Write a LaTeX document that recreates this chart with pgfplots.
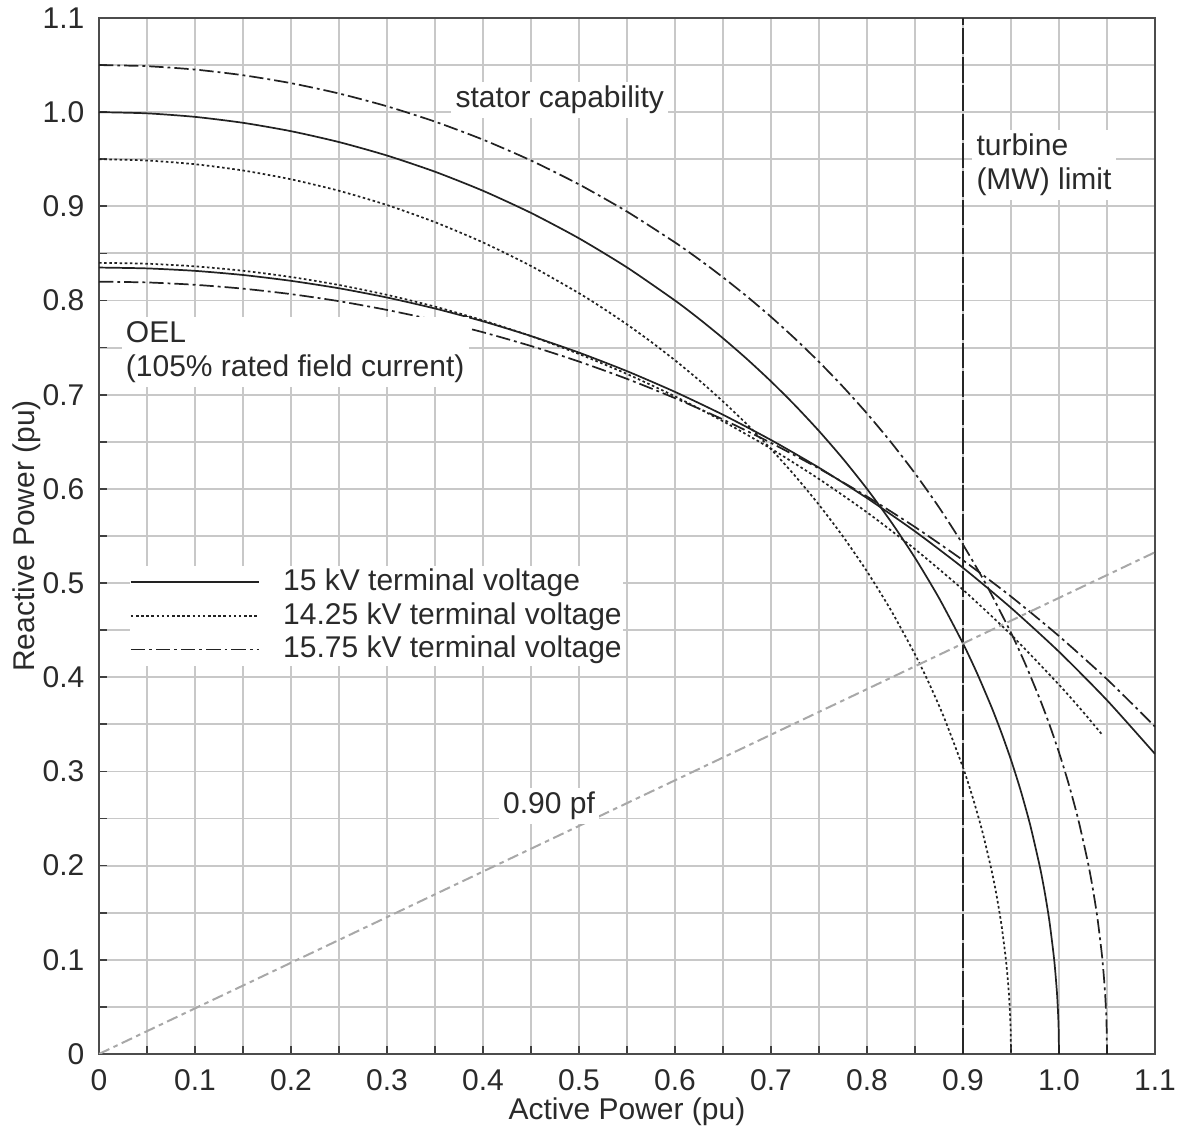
\documentclass[border=0pt]{standalone}
\usepackage{fontspec}
\setmainfont{Liberation Sans}
\usepackage{pgfplots}
\pgfplotsset{compat=1.18}
\definecolor{txt}{HTML}{2A2A2A}
\definecolor{gridc}{HTML}{C8C8C8}
\definecolor{curve}{HTML}{222222}
\definecolor{pfc}{HTML}{A8A8A8}
\begin{document}
\begin{tikzpicture}
\begin{axis}[
  scale only axis,
  width=369.6pt, height=362.6pt,
  xmin=0, xmax=1.1, ymin=0, ymax=1.1,
  xtick={0,0.1,0.2,0.3,0.4,0.5,0.6,0.7,0.8,0.9,1.0,1.1},
  ytick={0,0.1,0.2,0.3,0.4,0.5,0.6,0.7,0.8,0.9,1.0,1.1},
  xticklabels={0,0.1,0.2,0.3,0.4,0.5,0.6,0.7,0.8,0.9,1.0,1.1},
  yticklabels={0,0.1,0.2,0.3,0.4,0.5,0.6,0.7,0.8,0.9,1.0,1.1},
  minor tick num=1,
  grid=both,
  major grid style={gridc, line width=0.65pt},
  minor grid style={gridc, line width=0.65pt},
  tick align=inside,
  xtick pos=bottom, ytick pos=left,
  major tick length=2.8pt, minor tick length=2.8pt,
  tick style={black!75, line width=0.6pt},
  axis line style={black!70, line width=0.75pt},
  /pgf/number format/assume math mode=true,
  tick label style={font=\fontsize{10.5}{12}\selectfont, text=txt, inner sep=1pt},
  xticklabel style={yshift=-4.4pt},
  yticklabel style={xshift=-3.9pt},
  xlabel={Active Power (pu)},
  ylabel={Reactive Power (pu)},
  label style={font=\fontsize{10.5}{12}\selectfont, text=txt},
  xlabel style={at={(axis description cs:0.5,-0.0555)}, anchor=center},
  ylabel style={at={(axis description cs:-0.0680,0.5)}, anchor=center},
  legend style={at={(0.0294,0.4711)}, anchor=north west, draw=none, fill=white,
    inner sep=0pt, outer sep=0pt, row sep=0.65pt,
    font=\fontsize{10.5}{12}\selectfont, text=txt,
    nodes={inner sep=0.5pt, text height=8pt, text depth=2.2pt}},
  legend cell align=left,
  legend image code/.code={\draw[#1] (0pt,0pt) -- (44.8pt,0pt); \path (52.5pt,0pt);},
  every axis plot/.append style={smooth, tension=0.4},
]
% ---- OEL curves (field current limit) ----
\addplot[curve, line width=0.6pt] coordinates {
 (0,0.835) (0.05,0.8341) (0.1,0.8315) (0.15,0.8271) (0.2,0.8209) (0.25,0.8130)
 (0.3,0.8032) (0.35,0.7915) (0.4,0.7779) (0.45,0.7623) (0.5,0.7447) (0.55,0.7250)
 (0.6,0.7030) (0.65,0.6787) (0.7,0.6519) (0.75,0.6225) (0.8,0.5902) (0.85,0.5549)
 (0.9,0.5162) (0.95,0.4737) (1.0,0.4271) (1.05,0.3756) (1.1,0.3186)};
\addlegendentry{15 kV terminal voltage}
\addplot[curve, line width=0.6pt, dash pattern=on 0.9pt off 0.9pt] coordinates {
 (0,0.84) (0.05,0.8391) (0.1,0.8363) (0.15,0.8316) (0.2,0.8250) (0.25,0.8165)
 (0.3,0.8060) (0.35,0.7935) (0.4,0.7789) (0.45,0.7622) (0.5,0.7432) (0.55,0.7220)
 (0.6,0.6982) (0.65,0.6718) (0.7,0.6427) (0.75,0.6105) (0.8,0.5751) (0.85,0.5360)
 (0.9,0.4929) (0.95,0.4452) (1.0,0.3921) (1.025,0.3633) (1.045,0.3390)};
\addlegendentry{14.25 kV terminal voltage}
\addplot[curve, line width=0.6pt, dash pattern=on 5pt off 1.4pt on 1pt off 1.4pt] coordinates {
 (0,0.82) (0.05,0.8192) (0.1,0.8167) (0.15,0.8126) (0.2,0.8068) (0.25,0.7993)
 (0.3,0.7900) (0.35,0.7791) (0.4,0.7663) (0.45,0.7517) (0.5,0.7352) (0.55,0.7168)
 (0.6,0.6963) (0.65,0.6737) (0.7,0.6488) (0.75,0.6216) (0.8,0.5919) (0.85,0.5595)
 (0.9,0.5242) (0.95,0.4857) (1.0,0.4437) (1.05,0.3979) (1.1,0.3476)};
\addlegendentry{15.75 kV terminal voltage}
% ---- stator capability circles ----
\addplot[curve, line width=0.6pt, forget plot] coordinates {
 (0,1.0) (0.05,0.99875) (0.1,0.99499) (0.15,0.98869) (0.2,0.97980) (0.25,0.96825)
 (0.3,0.95394) (0.35,0.93675) (0.4,0.91652) (0.45,0.89303) (0.5,0.86603) (0.55,0.83516)
 (0.6,0.8) (0.625,0.78063) (0.65,0.75993) (0.675,0.73782) (0.7,0.71414) (0.725,0.68875)
 (0.75,0.66144) (0.775,0.63197) (0.8,0.6) (0.825,0.56513) (0.85,0.52678) (0.875,0.48412)
 (0.9,0.43589) (0.915,0.40345) (0.93,0.36756) (0.94,0.34117) (0.95,0.31225) (0.96,0.28)
 (0.97,0.24310) (0.98,0.19900) (0.985,0.17255) (0.99,0.14107) (0.995,0.09987)
 (0.998,0.06322) (0.9995,0.03162) (1.0,0)};
\addplot[curve, line width=0.6pt, dash pattern=on 0.9pt off 0.9pt, forget plot] coordinates {
 (0,0.95) (0.05,0.94868) (0.1,0.94472) (0.15,0.93808) (0.2,0.92871) (0.25,0.91652)
 (0.3,0.90139) (0.35,0.88318) (0.4,0.86168) (0.45,0.83666) (0.5,0.80777) (0.525,0.79175)
 (0.55,0.77460) (0.575,0.75622) (0.6,0.73655) (0.625,0.71546) (0.65,0.69282) (0.675,0.66849)
 (0.7,0.64226) (0.725,0.61390) (0.75,0.58310) (0.775,0.54943) (0.8,0.51235) (0.825,0.47104)
 (0.85,0.42426) (0.865,0.39278) (0.88,0.35791) (0.9,0.30414) (0.91,0.27276) (0.92,0.23685)
 (0.93,0.19391) (0.935,0.16815) (0.94,0.13748) (0.945,0.09734) (0.948,0.06161)
 (0.9495,0.03082) (0.95,0)};
\addplot[curve, line width=0.6pt, dash pattern=on 5pt off 1.4pt on 1pt off 1.4pt, forget plot] coordinates {
 (0,1.05) (0.05,1.04881) (0.1,1.04523) (0.15,1.03923) (0.2,1.03078) (0.25,1.01980)
 (0.3,1.00623) (0.35,0.98995) (0.4,0.97082) (0.45,0.94868) (0.5,0.92331) (0.55,0.89443)
 (0.6,0.86168) (0.625,0.84373) (0.65,0.82462) (0.675,0.80429) (0.7,0.78262) (0.725,0.75952)
 (0.75,0.73485) (0.775,0.70843) (0.8,0.68007) (0.825,0.64952) (0.85,0.61644) (0.875,0.58041)
 (0.9,0.54083) (0.925,0.49687) (0.95,0.44721) (0.965,0.41385) (0.98,0.37696) (0.99,0.34986)
 (1.0,0.32016) (1.01,0.28705) (1.02,0.24920) (1.03,0.20396) (1.035,0.17685) (1.04,0.14457)
 (1.045,0.10235) (1.048,0.06478) (1.0495,0.03240) (1.05,0)};
% ---- turbine limit ----
\addplot[black!85, line width=0.7pt, sharp plot, dash pattern=on 9pt off 1pt, forget plot] coordinates {(0.9,0) (0.9,1.1)};
% ---- 0.90 pf line ----
\addplot[pfc, line width=0.7pt, sharp plot, dash pattern=on 4pt off 1.6pt on 1.6pt off 1.6pt, forget plot] coordinates {(0,0) (1.1,0.5327)};
% ---- annotations ----
\node[fill=white, inner sep=1.5pt, text=txt, font=\fontsize{10.5}{12}\selectfont] at (axis cs:0.48,1.013) {stator capability};
\node[fill=white, inner sep=1.5pt, text=txt, align=left, anchor=west, font=\fontsize{10.5}{11.9}\selectfont] at (axis cs:0.909,0.944) {turbine\\(MW) limit};
\node[fill=white, inner sep=1.5pt, text=txt, align=left, anchor=west, font=\fontsize{10.5}{11.9}\selectfont] at (axis cs:0.023,0.7455) {OEL\\(105\% rated field current)};
\node[fill=white, inner sep=1.5pt, text=txt, font=\fontsize{10.5}{12}\selectfont] at (axis cs:0.4688,0.2633) {0.90 pf};
\coordinate (bl) at (rel axis cs:0,0);
\coordinate (tr) at (rel axis cs:1,1);
\end{axis}
\path ([shift={(-34.65pt,-24.5pt)}]bl) rectangle ([shift={(8.4pt,6.3pt)}]tr);
\end{tikzpicture}
\end{document}
